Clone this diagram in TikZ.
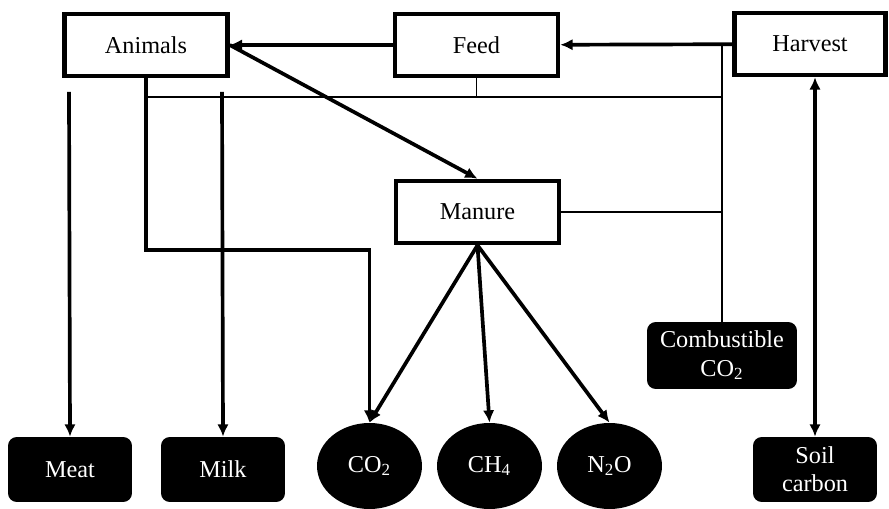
\documentclass[tikz,border=0pt]{standalone}
\usepackage{fontspec}
\setmainfont{Liberation Serif}
\usetikzlibrary{shapes.geometric,arrows.meta}

\begin{document}
\begin{tikzpicture}
  [
  x=0.02cm, y=-0.02cm,
  every node/.style={font=\fontsize{13.8}{16}\selectfont},
  stage/.style={rectangle,draw,line width=2.6pt,inner sep=0pt,minimum width=3.26cm,minimum height=1.24cm},
  product/.style={rectangle,rounded corners=5pt,fill=black,text=white,inner sep=0pt,align=center,minimum width=2.48cm,minimum height=1.3cm},
  gas/.style={ellipse,fill=black,text=white,inner sep=0pt,minimum width=2.1cm,minimum height=1.72cm},
  tip/.tip={Latex[length=7pt,width=6.5pt]},
  flow/.style={-tip,line width=2.1pt},
  link/.style={line width=0.75pt}
  ]
  \useasboundingbox (0,0) rectangle (889,509);
  % stages
  \node (animals) at (146,45) [stage] {Animals};
  \node (feed) at (476.5,45) [stage] {Feed};
  \node (harvest) at (810,44) [stage, minimum width=3.02cm] {Harvest};
  \node (manure) at (477.5,212) [stage] {Manure};
  % outputs
  \node (comb) at (722,355.5) [product, minimum width=3cm, minimum height=1.34cm] {Combustible\\CO\textsubscript{2}};
  \node (meat) at (70,469.5) [product] {Meat};
  \node (milk) at (223,469.5) [product] {Milk};
  \node (soil) at (815,469.5) [product] {Soil\\carbon};
  \node (co2) at (369.5,466) [gas] {CO\textsubscript{2}};
  \node (ch4) at (489.5,466) [gas] {CH\textsubscript{4}};
  \node (n2o) at (609.5,466) [gas] {N\textsubscript{2}O};
  % junctions
  \coordinate (split) at (722,44);
  \coordinate (rail) at (722,97);
  \coordinate (mjoin) at (722,212);
  \coordinate (meattop) at (69,92);
  \coordinate (milktop) at (222,92);
  \coordinate (elbow) at (369.5,250);
  % main flows
  \draw [flow] (harvest) to (feed);
  \draw [flow] (feed) to (animals);
  \draw [flow] (animals.east) to (manure.north);
  \draw [flow] (animals.south) |- (elbow) to (co2.north);
  \draw [flow] (meattop) to (meat.north);
  \draw [flow] (milktop) to (milk.north);
  \draw [flow] (manure.south) to (co2.north);
  \draw [flow] (manure.south) to (ch4.north);
  \draw [flow] (manure.south) to (n2o.north);
  \draw [flow, tip-tip] (soil.north |- harvest.south) to (soil.north);
  % thin links
  \draw [link] (animals.south |- rail) to (rail);
  \draw [link] (feed.south) to (feed.south |- rail);
  \draw [link] (split) to (comb.north);
  \draw [link] (manure.east) to (mjoin);
\end{tikzpicture}
\end{document}
